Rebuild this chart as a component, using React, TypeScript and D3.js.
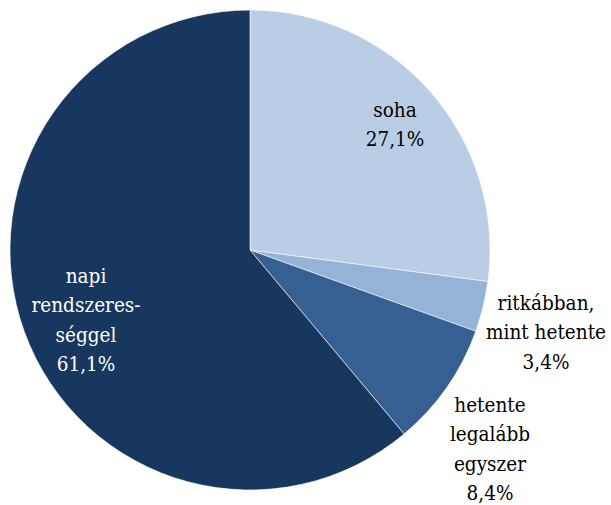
import React from "react";
import * as d3 from "d3";

const categories = ["soha", "ritkábban, mint hetente", "hetente legalább egyszer", "napi rendszerességgel"];
const values = [27.1, 3.4, 8.4, 61.1];
const colors = ["#b9cde5", "#95b3d7", "#376092", "#17375e"];
const labelLines = [
  ["soha", "27,1%"],
  ["ritkábban,", "mint hetente", "3,4%"],
  ["hetente", "legalább", "egyszer", "8,4%"],
  ["napi", "rendszeres-", "séggel", "61,1%"],
];
const labelColors = ["#000", "#000", "#000", "#fff"];
const labelPos: [number, number][] = [
  [395, 117],
  [546, 310],
  [490, 412],
  [86, 283],
];

export default function App() {
  const W = 611, H = 505;
  const cx = 250, cy = 250, r = 240;
  const pie = d3.pie<number>().sort(null).value((d) => d);
  const arcs = pie(values);
  const arc = d3.arc<d3.PieArcDatum<number>>().innerRadius(0).outerRadius(r);
  return (
    <svg width={W} height={H} style={{ position: "absolute", left: 0, top: 0 }}>
      <rect width={W} height={H} fill="#fff" />
      <g transform={`translate(${cx},${cy})`}>
        {arcs.map((a, i) => (
          <path key={categories[i]} d={arc(a) || ""} fill={colors[i]} stroke="#fff" strokeWidth={0.6} />
        ))}
      </g>
      {labelLines.map((lines, i) => (
        <g key={i} transform={`translate(${labelPos[i][0]},${labelPos[i][1]}) scale(0.88,1)`}>
          <text
            x={0}
            y={0}
            textAnchor="middle"
            fontFamily="DejaVu Serif"
            fontSize={21}
            fill={labelColors[i]}
          >
            {lines.map((l, j) => (
              <tspan key={j} x={0} dy={j === 0 ? 0 : 29.3}>
                {l}
              </tspan>
            ))}
          </text>
        </g>
      ))}
    </svg>
  );
}
